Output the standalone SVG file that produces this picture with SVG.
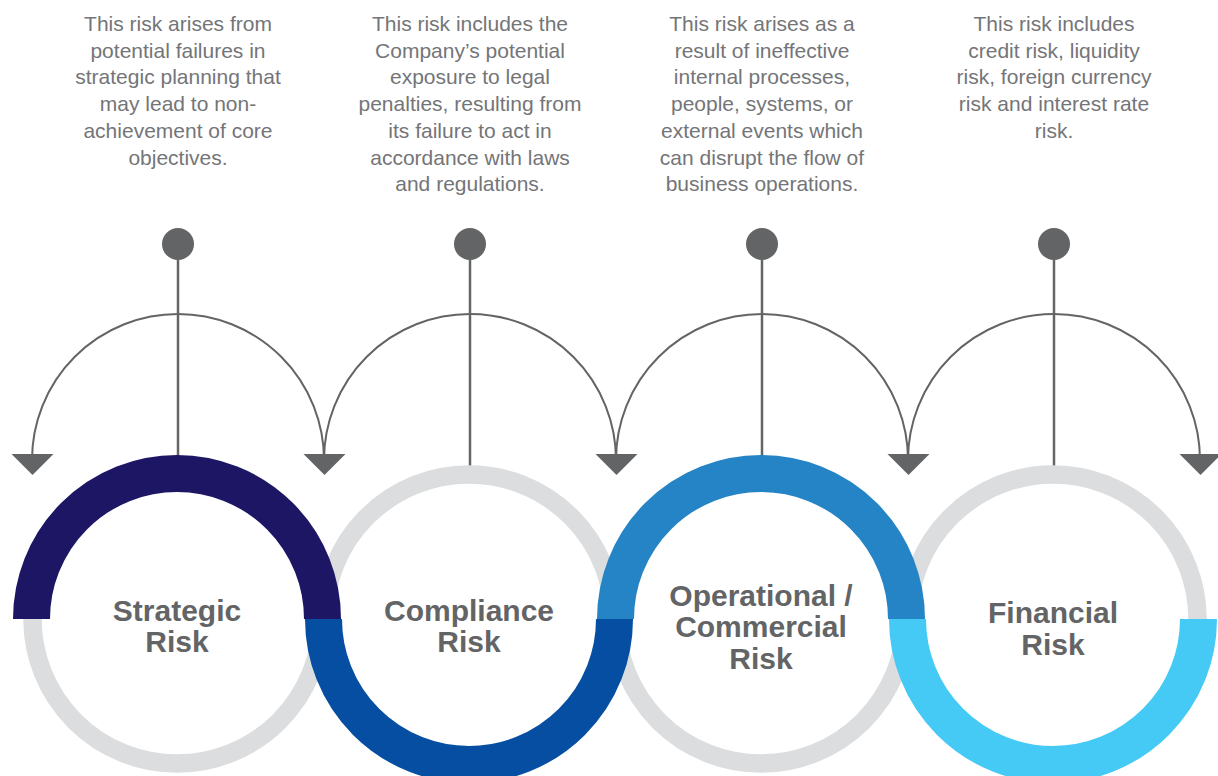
<svg xmlns="http://www.w3.org/2000/svg" width="1218" height="776" viewBox="0 0 1218 776">
<style>
.desc{font-family:"Liberation Sans",Arial,sans-serif;font-size:21px;fill:#747578;text-anchor:middle}
.title{font-family:"Liberation Sans",Arial,sans-serif;font-size:30px;font-weight:bold;fill:#636466;text-anchor:middle}
.arc{fill:none;stroke:#636466;stroke-width:2}
.stem{stroke:#636466;stroke-width:2.5}
.dot{fill:#636466}
.head{fill:#636466}
.gray{fill:none;stroke:#DCDDDF;stroke-width:18.5}
.band{fill:none;stroke-width:37;stroke-linecap:butt}
</style>
<rect width="1218" height="776" fill="#FFFFFF"/>
<g id="descriptions">
<text class="desc" x="178" y="31"><tspan x="178">This risk arises from</tspan><tspan x="178" dy="26.7">potential failures in</tspan><tspan x="178" dy="26.7">strategic planning that</tspan><tspan x="178" dy="26.7">may lead to non-</tspan><tspan x="178" dy="26.7">achievement of core</tspan><tspan x="178" dy="26.7">objectives.</tspan></text>
<text class="desc" x="470" y="31"><tspan x="470">This risk includes the</tspan><tspan x="470" dy="26.7">Company’s potential</tspan><tspan x="470" dy="26.7">exposure to legal</tspan><tspan x="470" dy="26.7">penalties, resulting from</tspan><tspan x="470" dy="26.7">its failure to act in</tspan><tspan x="470" dy="26.7">accordance with laws</tspan><tspan x="470" dy="26.7">and regulations.</tspan></text>
<text class="desc" x="762" y="31"><tspan x="762">This risk arises as a</tspan><tspan x="762" dy="26.7">result of ineffective</tspan><tspan x="762" dy="26.7">internal processes,</tspan><tspan x="762" dy="26.7">people, systems, or</tspan><tspan x="762" dy="26.7">external events which</tspan><tspan x="762" dy="26.7">can disrupt the flow of</tspan><tspan x="762" dy="26.7">business operations.</tspan></text>
<text class="desc" x="1054" y="31"><tspan x="1054">This risk includes</tspan><tspan x="1054" dy="26.7">credit risk, liquidity</tspan><tspan x="1054" dy="26.7">risk, foreign currency</tspan><tspan x="1054" dy="26.7">risk and interest rate</tspan><tspan x="1054" dy="26.7">risk.</tspan></text>
</g>
<g id="connectors">
<path class="arc" d="M32 460 A146 146 0 0 1 324 460"/>
<path class="arc" d="M324 460 A146 146 0 0 1 616 460"/>
<path class="arc" d="M616 460 A146 146 0 0 1 908 460"/>
<path class="arc" d="M908 460 A146 146 0 0 1 1200 460"/>
<line class="stem" x1="178" y1="244" x2="178" y2="472"/>
<line class="stem" x1="470" y1="244" x2="470" y2="472"/>
<line class="stem" x1="762" y1="244" x2="762" y2="472"/>
<line class="stem" x1="1054" y1="244" x2="1054" y2="472"/>
<circle class="dot" cx="178" cy="244" r="16"/>
<circle class="dot" cx="470" cy="244" r="16"/>
<circle class="dot" cx="762" cy="244" r="16"/>
<circle class="dot" cx="1054" cy="244" r="16"/>
<polygon class="head" points="11.5,454 53.5,454 32.5,475"/>
<polygon class="head" points="303.5,454 345.5,454 324.5,475"/>
<polygon class="head" points="595.5,454 637.5,454 616.5,475"/>
<polygon class="head" points="887.5,454 929.5,454 908.5,475"/>
<polygon class="head" points="1179.5,454 1221.5,454 1200.5,475"/>
</g>
<g id="rings-base">
<circle class="gray" cx="177" cy="619" r="144.5"/>
<circle class="gray" cx="469" cy="619" r="144.5"/>
<circle class="gray" cx="761" cy="619" r="144.5"/>
<circle class="gray" cx="1053" cy="619" r="144.5"/>
</g>
<g id="strategic">
<path class="band" stroke="#1D1665" d="M31.5 619 A145.5 145.5 0 0 1 322.5 619"/>
<text class="title" x="177" y="621">Strategic<tspan x="177" dy="31">Risk</tspan></text>
</g>
<g id="compliance">
<path class="band" stroke="#054EA2" d="M323.5 619 A145.5 145.5 0 0 0 614.5 619"/>
<text class="title" x="469" y="621">Compliance<tspan x="469" dy="31">Risk</tspan></text>
</g>
<g id="operational">
<path class="band" stroke="#2584C5" d="M615.5 619 A145.5 145.5 0 0 1 906.5 619"/>
<text class="title" x="761" y="605.5">Operational /<tspan x="761" dy="31.8">Commercial</tspan><tspan x="761" dy="31.8">Risk</tspan></text>
</g>
<g id="financial">
<path class="band" stroke="#45C9F5" d="M907.5 619 A145.5 145.5 0 0 0 1198.5 619"/>
<text class="title" x="1053" y="623">Financial<tspan x="1053" dy="31.5">Risk</tspan></text>
</g>
</svg>
